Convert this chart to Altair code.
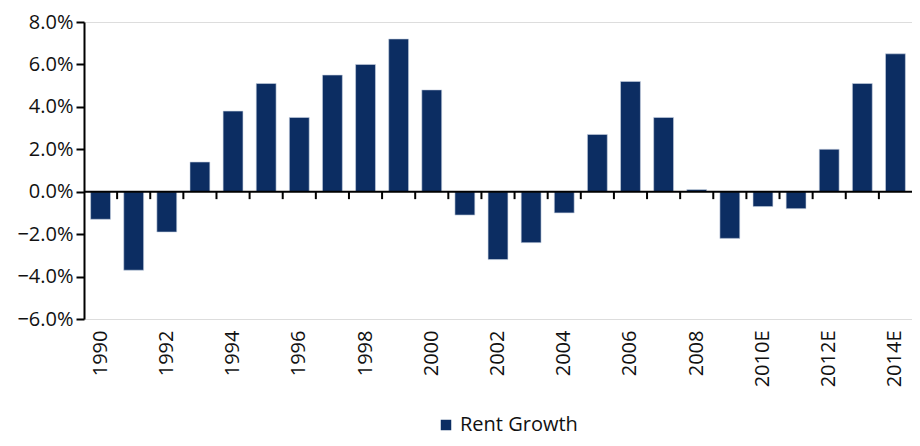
import altair as alt
import pandas as pd

years = ["1990", "1991", "1992", "1993", "1994", "1995", "1996", "1997", "1998", "1999",
         "2000", "2001", "2002", "2003", "2004", "2005", "2006", "2007", "2008", "2009",
         "2010E", "2011E", "2012E", "2013E", "2014E"]
growth_pct = [-1.3, -3.7, -1.9, 1.4, 3.8, 5.1, 3.5, 5.5, 6.0, 7.2,
              4.8, -1.1, -3.2, -2.4, -1.0, 2.7, 5.2, 3.5, 0.1, -2.2,
              -0.7, -0.8, 2.0, 5.1, 6.5]
shown_labels = years[::2]
y_ticks = [-0.06, -0.04, -0.02, 0.0, 0.02, 0.04, 0.06, 0.08]
series_name = "Rent Growth"

df = pd.DataFrame({
    "year": years,
    "growth": [g / 100 for g in growth_pct],
    "series": [series_name] * len(years),
})
tick_df = df.iloc[1:].copy()
zero_df = pd.DataFrame({"z": [0.0]})

FONT = "Open Sans"
NAVY = "#0c2d62"

xscale = alt.Scale(paddingInner=0, paddingOuter=0)
yscale = alt.Scale(domain=[-0.06, 0.08], nice=False)

bars = alt.Chart(df).mark_bar(width=alt.RelativeBandSize(0.6), stroke="#c9d3e3", strokeWidth=0.6).encode(
    x=alt.X("year:N", sort=years, title=None, scale=xscale,
            axis=alt.Axis(values=shown_labels, labelAngle=-90, domain=False, ticks=False,
                          labelFontSize=20, labelPadding=11, labelColor="#111111",
                          labelFont=FONT)),
    y=alt.Y("growth:Q", scale=yscale, title=None,
            axis=alt.Axis(values=y_ticks, format=".1%", grid=False, domainColor="#000000",
                          domainWidth=2, tickColor="#000000", tickWidth=2, tickSize=8,
                          labelFontSize=20, labelColor="#111111", labelFont=FONT,
                          labelPadding=3)),
    color=alt.Color("series:N", scale=alt.Scale(range=[NAVY]),
                    legend=alt.Legend(orient="none", legendX=352, legendY=393,
                                      direction="horizontal", title=None, symbolType="square",
                                      symbolSize=110, labelFontSize=20, labelFont=FONT,
                                      labelColor="#111111", symbolStrokeWidth=0)),
)

zero_line = alt.Chart(zero_df).mark_rule(color="#000000", strokeWidth=2).encode(
    y=alt.Y("z:Q", scale=yscale)
)

ticks = alt.Chart(tick_df).mark_rule(color="#000000", strokeWidth=2).encode(
    x=alt.X("year:N", sort=years, scale=xscale, bandPosition=0),
    y=alt.datum(0.0),
    y2=alt.datum(-0.0035),
)

chart = alt.layer(bars, zero_line, ticks).properties(
    width=828, height=297,
    autosize=alt.AutoSizeParams(type="none"),
    padding={"left": 76, "top": 14, "right": 0, "bottom": 123},
).configure_view(stroke=None).configure(background="white")

chart.save("out.html", embed_options={"renderer": "svg", "actions": False})
